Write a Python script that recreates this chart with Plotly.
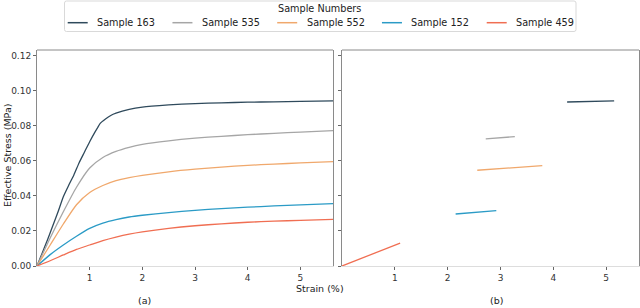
import plotly.graph_objects as go

# ---- data ----
samples = ["Sample 163", "Sample 535", "Sample 552", "Sample 152", "Sample 459"]
colors = ["#2f4a5c", "#a6a6a6", "#f0a86c", "#2b9bc6", "#f06e52"]
legend_title = "Sample Numbers"

# (a) full stress-strain curves
strain_163 = [0, 0.1, 0.2, 0.3, 0.4, 0.5, 0.6, 0.7, 0.8, 0.9, 1.0, 1.1, 1.15, 1.2, 1.3, 1.4, 1.5, 1.75, 2.0, 2.5, 3.0, 3.5, 4.0, 4.5, 5.0, 5.62]
stress_163 = [0, 0.0075, 0.0150, 0.0230, 0.0310, 0.0396, 0.0460, 0.0520, 0.0590, 0.0650, 0.0710, 0.0765, 0.0790, 0.0815, 0.0840, 0.0860, 0.0873, 0.0895, 0.0908, 0.0920, 0.0928, 0.0932, 0.0936, 0.0938, 0.0941, 0.0943]

strain_535 = [0, 0.25, 0.5, 0.75, 1.0, 1.25, 1.5, 1.75, 2.0, 2.5, 3.0, 3.5, 4.0, 4.5, 5.0, 5.62]
stress_535 = [0, 0.0160, 0.0310, 0.0450, 0.0560, 0.0620, 0.0655, 0.0678, 0.0695, 0.0715, 0.0730, 0.0741, 0.0750, 0.0758, 0.0765, 0.0773]

strain_552 = [0, 0.25, 0.5, 0.75, 1.0, 1.25, 1.5, 1.75, 2.0, 2.5, 3.0, 3.5, 4.0, 4.5, 5.0, 5.62]
stress_552 = [0, 0.0120, 0.0240, 0.0350, 0.0420, 0.0460, 0.0488, 0.0505, 0.0518, 0.0538, 0.0553, 0.0565, 0.0575, 0.0582, 0.0589, 0.0596]

strain_152 = [0, 0.25, 0.5, 0.75, 1.0, 1.25, 1.5, 1.75, 2.0, 2.5, 3.0, 3.5, 4.0, 4.5, 5.0, 5.62]
stress_152 = [0, 0.0065, 0.0120, 0.0170, 0.0215, 0.0245, 0.0265, 0.0280, 0.0290, 0.0305, 0.0318, 0.0328, 0.0336, 0.0343, 0.0349, 0.0356]

strain_459 = [0, 0.25, 0.5, 0.75, 1.0, 1.25, 1.5, 1.75, 2.0, 2.5, 3.0, 3.5, 4.0, 4.5, 5.0, 5.62]
stress_459 = [0, 0.0030, 0.0063, 0.0095, 0.0120, 0.0145, 0.0165, 0.0182, 0.0195, 0.0215, 0.0230, 0.0241, 0.0250, 0.0256, 0.0261, 0.0266]

# (b) short segments
seg_strain = {
    "Sample 163": [4.26, 5.15],
    "Sample 535": [2.72, 3.27],
    "Sample 552": [2.56, 3.79],
    "Sample 152": [2.15, 2.92],
    "Sample 459": [0.0, 1.10],
}
seg_stress = {
    "Sample 163": [0.0937, 0.0943],
    "Sample 535": [0.0726, 0.0739],
    "Sample 552": [0.0547, 0.0573],
    "Sample 152": [0.0297, 0.0316],
    "Sample 459": [0.0, 0.0131],
}

x_ticks = [1, 2, 3, 4, 5]
y_ticks = [0.00, 0.02, 0.04, 0.06, 0.08, 0.10, 0.12]
x_range = [0, 5.62]
y_range = [0, 0.1234]

curves = [
    (strain_163, stress_163),
    (strain_535, stress_535),
    (strain_552, stress_552),
    (strain_152, stress_152),
    (strain_459, stress_459),
]

FONT = "DejaVu Sans"
TXT = "#222222"
fig = go.Figure()

for name, color, (xs, ys) in zip(samples, colors, curves):
    fig.add_trace(go.Scatter(x=xs, y=ys, mode="lines", name=name,
                             line=dict(color=color, width=1.3, shape="spline", smoothing=0.6),
                             xaxis="x", yaxis="y", legendgroup=name, showlegend=False))
for name, color in zip(samples, colors):
    fig.add_trace(go.Scatter(x=seg_strain[name], y=seg_stress[name], mode="lines", name=name,
                             line=dict(color=color, width=1.3), showlegend=False,
                             xaxis="x2", yaxis="y2", legendgroup=name))

spine = "#8a8a8a"
tickfont = dict(family=FONT, size=9, color="#333333")
common_x = dict(range=x_range, tickvals=x_ticks, ticks="outside", ticklen=3, tickcolor="#666666",
                tickwidth=1, showgrid=False, zeroline=False, showline=True, linecolor="#dddddd",
                linewidth=1, tickfont=tickfont, automargin=False)
common_y = dict(range=y_range, tickvals=y_ticks, ticks="outside", ticklen=3, tickcolor="#666666",
                tickwidth=1, showgrid=False, zeroline=False, showline=True, linecolor=spine,
                linewidth=1, mirror=True, automargin=False)

W, H = 640, 308
l, r, t, b = 37, 1, 50, 42
pw, ph = W - l - r, H - t - b

def px_x(x):
    return (x - l) / pw

def px_y(y):
    return (H - b - y) / ph

annotations = [
    dict(text="Strain (%)", x=px_x(320), y=px_y(288)),
    dict(text="(a)", x=px_x(144), y=px_y(300)),
    dict(text="(b)", x=px_x(496), y=px_y(300)),
    dict(text="Effective Stress (MPa)", x=px_x(7), y=px_y(156), textangle=-90),
]

# ---- hand-built legend (matplotlib-like short handles) ----
shapes = []
box_l, box_r, box_t, box_b = 64.5, 576, 1, 31.5
rad = 2
path = (f"M{px_x(box_l + rad)},{px_y(box_t)} L{px_x(box_r - rad)},{px_y(box_t)} "
        f"Q{px_x(box_r)},{px_y(box_t)} {px_x(box_r)},{px_y(box_t + rad)} "
        f"L{px_x(box_r)},{px_y(box_b - rad)} Q{px_x(box_r)},{px_y(box_b)} {px_x(box_r - rad)},{px_y(box_b)} "
        f"L{px_x(box_l + rad)},{px_y(box_b)} Q{px_x(box_l)},{px_y(box_b)} {px_x(box_l)},{px_y(box_b - rad)} "
        f"L{px_x(box_l)},{px_y(box_t + rad)} Q{px_x(box_l)},{px_y(box_t)} {px_x(box_l + rad)},{px_y(box_t)} Z")
shapes.append(dict(type="path", path=path, xref="paper", yref="paper",
                   line=dict(color="#d9d9d9", width=1), fillcolor="white", layer="above"))
annotations.append(dict(text=legend_title, x=px_x(319.5), y=px_y(8.3), size=9.7))
pitch = 104.75
for i, (name, color) in enumerate(zip(samples, colors)):
    x0 = 67.7 + pitch * i
    shapes.append(dict(type="line", xref="paper", yref="paper",
                       x0=px_x(x0), x1=px_x(x0 + 20), y0=px_y(22.7), y1=px_y(22.7),
                       line=dict(color=color, width=1.5), layer="above"))
    annotations.append(dict(text=name, x=px_x(x0 + 27.3), y=px_y(22.7), xanchor="left", size=9.7))

fig.update_layout(
    width=W, height=H,
    margin=dict(l=l, r=r, t=t, b=b, autoexpand=False),
    paper_bgcolor="white", plot_bgcolor="white",
    font=dict(family=FONT, size=9.5, color=TXT),
    xaxis=dict(domain=[0, px_x(333)], anchor="y", **common_x),
    yaxis=dict(domain=[0, 1], anchor="x", tickformat=".2f", tickfont=tickfont, **common_y),
    xaxis2=dict(domain=[px_x(342), 1], anchor="y2", **common_x),
    yaxis2=dict(domain=[0, 1], anchor="x2", showticklabels=False, **common_y),
    showlegend=False,
    shapes=shapes,
)
for a in annotations:
    a.setdefault("xanchor", "center")
    size = a.pop("size", 9.5)
    fig.add_annotation(xref="paper", yref="paper", showarrow=False, yanchor="middle",
                       font=dict(family=FONT, size=size, color=TXT), **a)

# top spines
for ax, ya in [("x", "y"), ("x2", "y2")]:
    fig.add_shape(type="line", xref=f"{ax} domain", yref=f"{ya} domain", x0=0, x1=1, y0=1, y1=1,
                  line=dict(color=spine, width=1))

fig.write_html("out.html", config={"displayModeBar": False},
               post_script="document.body.style.margin='0';document.body.style.padding='0';")
